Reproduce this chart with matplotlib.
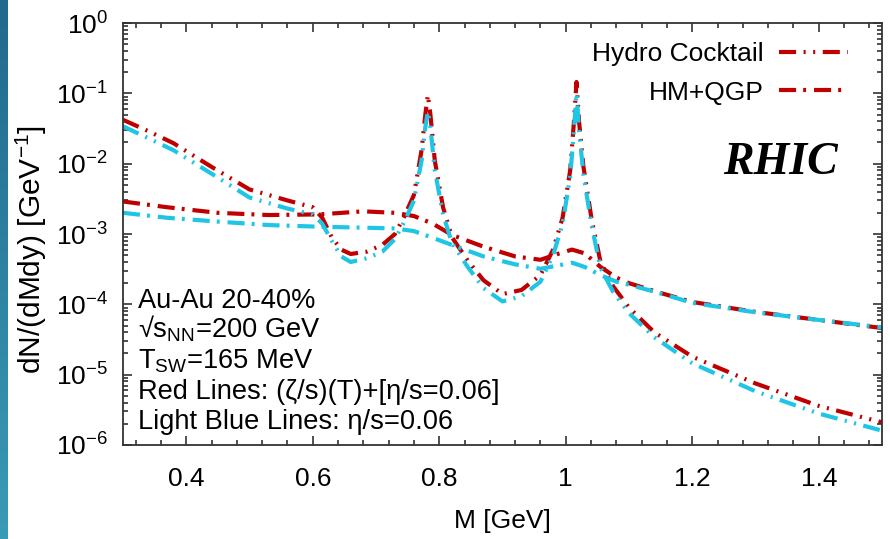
import numpy as np
import matplotlib
matplotlib.use("Agg")
import matplotlib.pyplot as plt
from matplotlib.ticker import MultipleLocator, LogLocator, FixedLocator, FixedFormatter, NullFormatter

plt.rcParams['font.family'] = ['Liberation Sans', 'DejaVu Sans']
plt.rcParams['mathtext.fontset'] = 'custom'
plt.rcParams['mathtext.rm'] = 'Liberation Sans'
plt.rcParams['mathtext.it'] = 'Liberation Sans:italic'
plt.rcParams['mathtext.default'] = 'regular'

# 数据：不变质量 M (GeV) 与 dN/(dMdy)
m_cocktail = [0.30, 0.34, 0.38, 0.44, 0.50, 0.56, 0.60, 0.615, 0.63, 0.645, 0.66, 0.685,
              0.71, 0.73, 0.745, 0.76, 0.772, 0.778, 0.782, 0.786, 0.793, 0.806, 0.82,
              0.845, 0.87, 0.90, 0.93, 0.96, 0.98, 0.995, 1.007, 1.013, 1.017, 1.021,
              1.028, 1.041, 1.055, 1.075, 1.10, 1.14, 1.20, 1.30, 1.40, 1.50]
cocktail_red = [0.042, 0.029, 0.0195, 0.009, 0.0043, 0.003, 0.0024, 0.0017, 0.0009, 0.0006,
                0.00052, 0.00056, 0.0007, 0.001, 0.0018, 0.0036, 0.0155, 0.05, 0.095, 0.05,
                0.011, 0.0024, 0.0009, 0.00042, 0.00022, 0.00014, 0.00016, 0.00026, 0.0006,
                0.0017, 0.008, 0.04, 0.145, 0.04, 0.009, 0.0016, 0.0004, 0.00018, 0.00009,
                0.00004, 0.000018, 0.0000075, 0.0000036, 0.0000021]
cocktail_blue = [0.034, 0.023, 0.0155, 0.0072, 0.0033, 0.0023, 0.0019, 0.0014, 0.0008, 0.00048,
                 0.0004, 0.00045, 0.00056, 0.00085, 0.0015, 0.003, 0.011, 0.033, 0.055, 0.033,
                 0.008, 0.0019, 0.00075, 0.00034, 0.00017, 0.00011, 0.00013, 0.00021, 0.0005,
                 0.0014, 0.0065, 0.03, 0.1, 0.03, 0.007, 0.0013, 0.00033, 0.00015, 0.000075,
                 0.000034, 0.0000145, 0.0000058, 0.0000028, 0.0000016]

m_hmqgp = [0.30, 0.37, 0.45, 0.53, 0.61, 0.68, 0.73, 0.76, 0.79, 0.82, 0.87, 0.92, 0.96,
           0.99, 1.01, 1.03, 1.055, 1.08, 1.10, 1.15, 1.20, 1.30, 1.40, 1.50]
hmqgp_red = [0.0029, 0.0024, 0.002, 0.00186, 0.0019, 0.0021, 0.002, 0.0018, 0.0014, 0.00097,
             0.00066, 0.00048, 0.00043, 0.00053, 0.0006, 0.00053, 0.00034, 0.00024, 0.0002,
             0.000145, 0.000108, 0.000078, 0.00006, 0.000046]
hmqgp_blue = [0.002, 0.0017, 0.0015, 0.00134, 0.00127, 0.00123, 0.0012, 0.0011, 0.00088, 0.0007,
              0.00048, 0.00037, 0.00032, 0.00036, 0.00039, 0.00034, 0.00026, 0.00021, 0.00019,
              0.000143, 0.000105, 0.000077, 0.00006, 0.000047]

xtick_values = [0.4, 0.6, 0.8, 1.0, 1.2, 1.4]
xtick_labels = ['0.4', '0.6', '0.8', '1', '1.2', '1.4']
ytick_values = [1e-6, 1e-5, 1e-4, 1e-3, 1e-2, 1e-1, 1e0]
ytick_labels = ['$10^{-6}$', '$10^{-5}$', '$10^{-4}$', '$10^{-3}$', '$10^{-2}$', '$10^{-1}$', '$10^{0}$']

info_lines = ['Au-Au 20-40%',
              '√s$_{NN}$=200 GeV',
              'T$_{SW}$=165 MeV',
              'Red Lines: (ζ/s)(T)+[η/s=0.06]',
              'Light Blue Lines: η/s=0.06']

red = '#c00000'
blue = '#1ec5e5'
ls_cocktail = (0, (4.1, 1.8, 0.5, 1.8, 0.5, 1.8))
ls_hmqgp = (0, (4.1, 1.7, 0.7, 1.9))
fs = 19

fig = plt.figure(figsize=(8.9, 5.39), dpi=100)

# 左侧幻灯片蓝色边条
strip = fig.add_axes([0, 0, 8 / 890, 1])
strip.imshow(np.linspace(0, 1, 100).reshape(-1, 1), aspect='auto',
             cmap=matplotlib.colors.LinearSegmentedColormap.from_list('s', ['#21698d', '#3a9bb6']))
strip.axis('off')

ax = fig.add_axes([123 / 890, 94 / 539, 759 / 890, 422 / 539])

ax.plot(m_cocktail, cocktail_red, color=red, lw=3, linestyle=ls_cocktail, label='Hydro Cocktail')
ax.plot(m_hmqgp, hmqgp_red, color=red, lw=3, linestyle=ls_hmqgp, label='HM+QGP')
ax.plot(m_cocktail, cocktail_blue, color=blue, lw=3, linestyle=ls_cocktail)
ax.plot(m_hmqgp, hmqgp_blue, color=blue, lw=3, linestyle=ls_hmqgp)

ax.set_yscale('log')
ax.set_xlim(0.3, 1.5)
ax.set_ylim(1e-6, 1)

ax.xaxis.set_major_locator(FixedLocator(xtick_values))
ax.xaxis.set_major_formatter(FixedFormatter(xtick_labels))
ax.xaxis.set_minor_locator(MultipleLocator(0.04))
ax.yaxis.set_major_locator(FixedLocator(ytick_values))
ax.yaxis.set_major_formatter(FixedFormatter(ytick_labels))
ax.yaxis.set_minor_locator(LogLocator(base=10, subs=np.arange(2, 10), numticks=20))
ax.yaxis.set_minor_formatter(NullFormatter())

ax.tick_params(which='both', direction='in', top=True, right=True, width=1.1, color='#222222')
ax.tick_params(which='major', length=6.5, labelsize=fs)
ax.tick_params(which='minor', length=3.5)
ax.tick_params(axis='x', which='major', pad=16)
ax.tick_params(axis='y', which='major', pad=11)
for sp in ax.spines.values():
    sp.set_linewidth(1.3)
    sp.set_color('#333333')

ax.set_xlabel('M [GeV]', fontsize=fs)
ax.xaxis.set_label_coords(0.5, -0.152)
ax.set_ylabel('dN/(dMdy) [GeV$^{-1}$]', fontsize=21.5)
ax.yaxis.set_label_coords(-0.098, 0.462)

leg = ax.legend(loc='upper right', bbox_to_anchor=(0.955, 0.955), frameon=False,
                markerfirst=False, fontsize=fs, handlelength=2.6, handletextpad=0.6,
                labelspacing=0.55, borderpad=0, borderaxespad=0)

# 参数说明文字
info_y = [0.325, 0.254, 0.182, 0.109, 0.038]
for txt, yy in zip(info_lines, info_y):
    ax.text(0.02, yy, txt, transform=ax.transAxes, fontsize=19.6, va='baseline', ha='left')

ax.text(0.79, 0.642, 'RHIC', transform=ax.transAxes, fontsize=33, fontweight='bold',
        fontstyle='italic', family='Liberation Serif', va='baseline', ha='left')

fig.savefig('out.png', dpi=100)
